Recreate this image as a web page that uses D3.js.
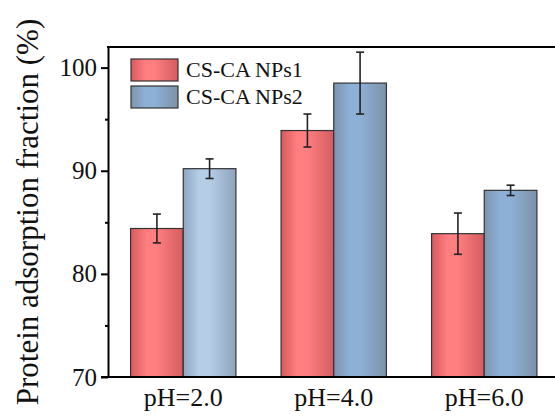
<!DOCTYPE html>
<html>
<head>
<meta charset="utf-8">
<script src="https://cdn.jsdelivr.net/npm/d3@7"></script>
<style>
  html, body { margin: 0; padding: 0; background: #fff; }
  svg { display: block; }
  svg text { font-family: "Liberation Serif", "Times New Roman", serif; }
</style>
</head>
<body>
<div id="chart"></div>
<script>
// Values
const categories = ['pH=2.0', 'pH=4.0', 'pH=6.0'];
const seriesNames = ['CS-CA NPs1', 'CS-CA NPs2'];
const nps1Values = [84.4, 93.9, 83.9];
const nps1Errors = [1.4, 1.6, 2.0];
const nps2Values = [90.2, 98.5, 88.1];
const nps2Errors = [0.95, 3.0, 0.5];
const yTicks = [70, 80, 90, 100];
const yMinorTicks = [75, 85, 95];

const width = 555;
const height = 416;
const margin = { top: 47, left: 108, bottom: 39 };
const serif = '"Liberation Serif", "Times New Roman", serif';

const svg = d3.select('#chart')
  .append('svg')
  .attr('width', width)
  .attr('height', height);

// gradients: dark edges, light band left of centre (like Origin's shading)
const defs = svg.append('defs');
const gradients = [
  { id: 'g-red', stops: ['#d65a5e', '#ff7e80', '#ff7e80', '#d35c60'] },
  { id: 'g-blue', stops: ['#7d94ad', '#8db0d6', '#8db0d6', '#7d92a8'] },
  { id: 'g-blue-light', stops: ['#8ea6c1', '#b6cde7', '#b6cde7', '#8ea4bd'] },
];
gradients.forEach((g) => {
  const lg = defs.append('linearGradient').attr('id', g.id)
    .attr('x1', '0%').attr('x2', '100%').attr('y1', '0%').attr('y2', '0%');
  [0, 0.3, 0.5, 1].forEach((o, i) => {
    lg.append('stop').attr('offset', o).attr('stop-color', g.stops[i]);
  });
});

const x = d3.scaleBand()
  .domain(categories)
  .range([margin.left, 559.5])
  .paddingInner(0.3)
  .paddingOuter(0.15);

const xSub = d3.scaleBand()
  .domain(seriesNames)
  .range([0, x.bandwidth()]);

const y = d3.scaleLinear()
  .domain([70, 102])
  .range([height - margin.bottom, margin.top]);

const rows = categories.map((c, i) => ({
  cat: c,
  bars: [
    { name: seriesNames[0], value: nps1Values[i], err: nps1Errors[i], fill: 'url(#g-red)' },
    { name: seriesNames[1], value: nps2Values[i], err: nps2Errors[i], fill: i === 0 ? 'url(#g-blue-light)' : 'url(#g-blue)' },
  ],
}));

const group = svg.append('g')
  .selectAll('g')
  .data(rows)
  .join('g')
  .attr('transform', (d) => `translate(${x(d.cat)},0)`);

group.selectAll('rect')
  .data((d) => d.bars)
  .join('rect')
  .attr('x', (d) => xSub(d.name))
  .attr('y', (d) => y(d.value))
  .attr('width', xSub.bandwidth())
  .attr('height', (d) => y(70) - y(d.value))
  .attr('fill', (d) => d.fill)
  .attr('stroke', '#333')
  .attr('stroke-width', 1.2);

// error bars
const err = group.selectAll('g.err')
  .data((d) => d.bars)
  .join('g')
  .attr('class', 'err')
  .attr('stroke', '#222')
  .attr('stroke-width', 1.6);

err.append('line')
  .attr('x1', (d) => xSub(d.name) + xSub.bandwidth() / 2)
  .attr('x2', (d) => xSub(d.name) + xSub.bandwidth() / 2)
  .attr('y1', (d) => y(d.value + d.err))
  .attr('y2', (d) => y(d.value - d.err));

[1, -1].forEach((s) => {
  err.append('line')
    .attr('x1', (d) => xSub(d.name) + xSub.bandwidth() / 2 - 4)
    .attr('x2', (d) => xSub(d.name) + xSub.bandwidth() / 2 + 4)
    .attr('y1', (d) => y(d.value + s * d.err))
    .attr('y2', (d) => y(d.value + s * d.err));
});

// y axis
const yAxis = svg.append('g')
  .attr('transform', `translate(${margin.left},0)`)
  .call(d3.axisLeft(y).tickValues(yTicks).tickSize(7).tickSizeOuter(0).tickPadding(4))
  .attr('font-family', serif);
yAxis.select('.domain').attr('stroke', '#000').attr('stroke-width', 2);
yAxis.selectAll('.tick line').attr('stroke', '#000').attr('stroke-width', 2);
yAxis.selectAll('.tick text')
  .attr('font-size', 25)
  .attr('font-family', serif)
  .attr('fill', '#111');

svg.append('g')
  .attr('transform', `translate(${margin.left},0)`)
  .call(d3.axisLeft(y).tickValues(yMinorTicks).tickSize(3).tickSizeOuter(0).tickFormat(''))
  .call((g) => g.select('.domain').remove())
  .selectAll('.tick line').attr('stroke', '#000').attr('stroke-width', 2);

// x axis
const xAxis = svg.append('g')
  .attr('transform', `translate(0,${y(70)})`)
  .call(d3.axisBottom(x).tickSize(0).tickSizeOuter(0).tickPadding(11))
  .attr('font-family', serif);
xAxis.select('.domain').attr('stroke', '#000').attr('stroke-width', 2)
  .attr('d', `M${margin.left - 7},0H${width}`);
xAxis.selectAll('.tick text')
  .attr('font-size', 26)
  .attr('font-family', serif)
  .attr('fill', '#111');

// top frame line
svg.append('line')
  .attr('x1', margin.left - 1).attr('x2', width)
  .attr('y1', y(102)).attr('y2', y(102))
  .attr('stroke', '#000').attr('stroke-width', 2);

// axis title
svg.append('text')
  .attr('transform', `translate(38,${212}) rotate(-90)`)
  .attr('text-anchor', 'middle')
  .attr('font-family', serif)
  .attr('font-size', 31)
  .attr('fill', '#111')
  .text('Protein adsorption fraction (%)');

// legend
const legend = svg.append('g')
  .selectAll('g')
  .data([
    { name: seriesNames[0], fill: 'url(#g-red)' },
    { name: seriesNames[1], fill: 'url(#g-blue)' },
  ])
  .join('g')
  .attr('transform', (d, i) => `translate(131,${59 + i * 27})`);

legend.append('rect')
  .attr('width', 47).attr('height', 22)
  .attr('fill', (d) => d.fill)
  .attr('stroke', '#333').attr('stroke-width', 1.2);

legend.append('text')
  .attr('x', 55).attr('y', 18)
  .attr('font-family', serif)
  .attr('font-size', 22)
  .attr('fill', '#111')
  .text((d) => d.name);
</script>
</body>
</html>
